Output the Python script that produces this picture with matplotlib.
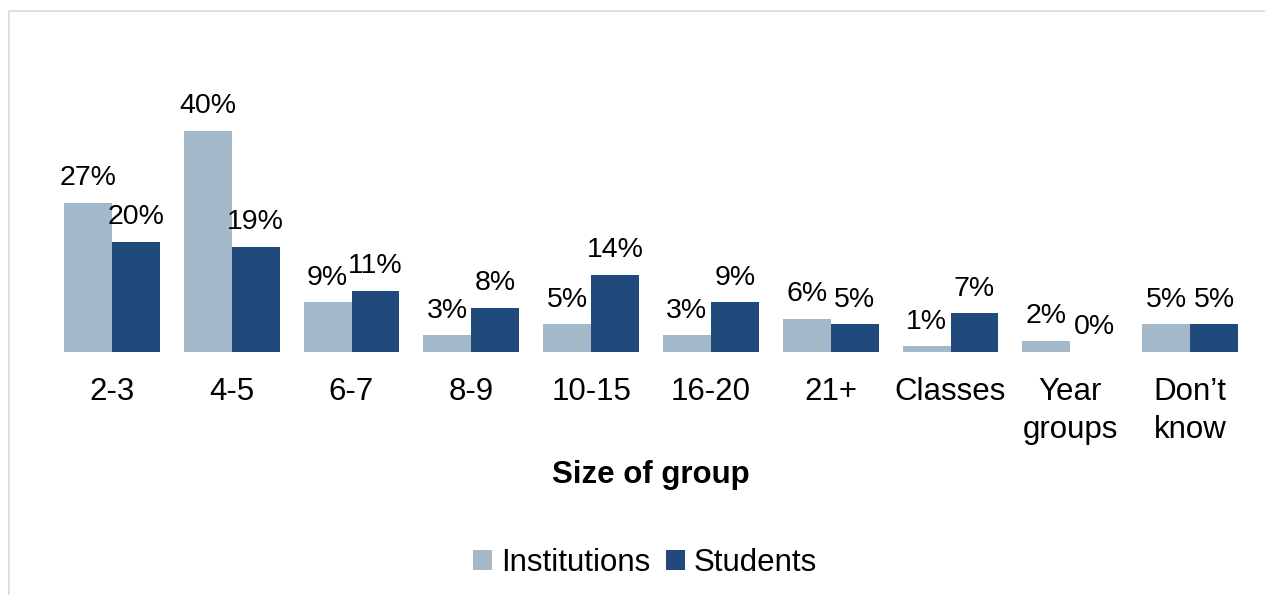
import matplotlib.pyplot as plt
from matplotlib.patches import Rectangle
import numpy as np

# group sizes and shares (%)
categories = ['2-3', '4-5', '6-7', '8-9', '10-15', '16-20', '21+', 'Classes',
              'Year\ngroups', 'Don\u2019t\nknow']
institutions = [27, 40, 9, 3, 5, 3, 6, 1, 2, 5]
students = [20, 19, 11, 8, 14, 9, 5, 7, 0, 5]

inst_color = '#A3B9C9'
stud_color = '#214A7C'

plt.rcParams['font.family'] = ['Liberation Sans', 'DejaVu Sans']

W, H = 1265, 595
fig = plt.figure(figsize=(W / 100, H / 100), dpi=100)

# thin grey frame round the chart area
fig.patches.append(Rectangle((9 / W, -0.05), 1.1, 1 - 11 / H + 0.05,
                             transform=fig.transFigure, fill=False,
                             edgecolor='#D9D9D9', linewidth=1.2))

# axes placed so the baseline sits at y=352 px
ax = fig.add_axes([52 / W, 1 - 352 / H, (1250 - 52) / W, 276 / H])
ax.set_ylim(0, 50)
ax.set_xlim(-0.5, len(categories) - 0.5)

x = np.arange(len(categories))
w = 0.4
b1 = ax.bar(x - w / 2, institutions, w, color=inst_color, label='Institutions')
b2 = ax.bar(x + w / 2, students, w, color=stud_color, label='Students')

for bars, vals in ((b1, institutions), (b2, students)):
    for r, v in zip(bars, vals):
        ax.annotate('{}%'.format(v), (r.get_x() + r.get_width() / 2, v),
                    xytext=(0, 8.5), textcoords='offset points',
                    ha='center', va='bottom', fontsize=20.5)

ax.set_xticks(x)
ax.set_xticklabels(categories, fontsize=22.5, linespacing=1.35)
ax.tick_params(axis='x', length=0, pad=18)
ax.set_yticks([])
for s in ax.spines.values():
    s.set_visible(False)

fig.text(651 / W, 1 - 475 / H, 'Size of group', ha='center', va='center',
         fontsize=22.5, fontweight='bold')

fig.legend(handles=[b1, b2], loc='center', bbox_to_anchor=(645 / W, 1 - 563 / H),
           ncol=2, frameon=False, fontsize=22.5, handlelength=0.6,
           handleheight=0.6, handletextpad=0.3, columnspacing=0.5)

fig.savefig('out.png', dpi=100)
